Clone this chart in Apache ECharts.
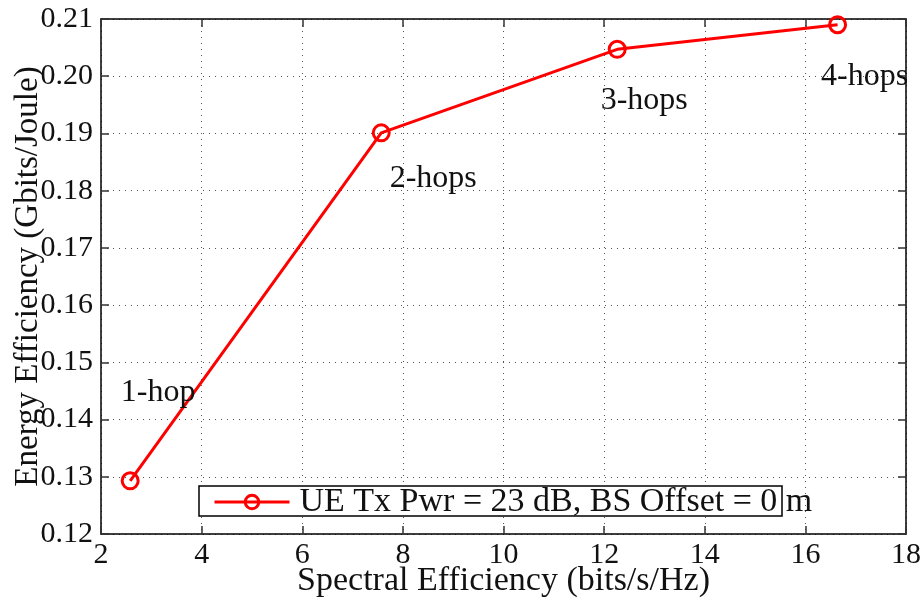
<!DOCTYPE html>
<html>
<head>
<meta charset="utf-8">
<script src="https://cdn.jsdelivr.net/npm/echarts@6/dist/echarts.min.js"></script>
<style>
  html, body { margin: 0; padding: 0; background: #fff; }
  #chart { width: 924px; height: 603px; }
</style>
</head>
<body>
<div id="chart"></div>
<script>
// Energy efficiency vs spectral efficiency for 1..4 relay hops
const spectralEff = [2.58, 7.57, 12.26, 16.64];
const energyEff = [0.1293, 0.1901, 0.2047, 0.2090];
const hopLabels = ['1-hop', '2-hops', '3-hops', '4-hops'];
const labelOffsets = [[28, -88], [52, 46], [27, 51], [27, 52]];
const seriesName = 'UE Tx Pwr = 23 dB, BS Offset = 0 m';
const xTicks = { min: 2, max: 18, step: 2 };
const yTicks = { min: 0.12, max: 0.21, step: 0.01 };

const FONT = '"Liberation Serif", "Times New Roman", serif';
const RED = '#ff0000';

const chart = echarts.init(document.getElementById('chart'), null, { renderer: 'canvas' });

const gridDots = { show: true, lineStyle: { color: '#555', type: [1, 5], width: 1 } };
const frame = { show: true, onZero: false, lineStyle: { color: '#000', width: 1.5 } };
const innerTick = { show: true, inside: true, length: 8, lineStyle: { color: '#333', width: 1.5 } };

const points = spectralEff.map((x, i) => ({
  value: [x, energyEff[i]],
  label: {
    show: true,
    formatter: hopLabels[i],
    position: 'inside',
    offset: labelOffsets[i],
    fontFamily: FONT,
    fontSize: 32,
    color: '#111'
  }
}));

chart.setOption({
  animation: false,
  backgroundColor: '#fff',
  grid: { left: 101, right: 18, top: 19, bottom: 69, containLabel: false, outerBoundsMode: 'none' },
  xAxis: [
    {
      type: 'value', min: xTicks.min, max: xTicks.max, interval: xTicks.step,
      position: 'bottom',
      name: 'Spectral Efficiency (bits/s/Hz)', nameLocation: 'middle', nameGap: 30,
      nameMoveOverlap: false,
      nameTextStyle: { fontFamily: FONT, fontSize: 34, color: '#111' },
      axisLine: frame, axisTick: innerTick, splitLine: gridDots,
      axisLabel: { fontFamily: FONT, fontSize: 30, color: '#111', margin: 6 }
    },
    {
      type: 'value', min: xTicks.min, max: xTicks.max, interval: xTicks.step,
      position: 'top', axisLine: frame, axisTick: innerTick,
      axisLabel: { show: false }, splitLine: { show: false }
    }
  ],
  yAxis: [
    {
      type: 'value', min: yTicks.min, max: yTicks.max, interval: yTicks.step,
      position: 'left',
      name: 'Energy Efficiency (Gbits/Joule)', nameLocation: 'middle', nameGap: 56,
      nameMoveOverlap: false,
      nameTextStyle: { fontFamily: FONT, fontSize: 33, color: '#111' },
      axisLine: frame, axisTick: innerTick, splitLine: gridDots,
      axisLabel: {
        fontFamily: FONT, fontSize: 30, color: '#111', margin: 8,
        formatter: v => v.toFixed(2)
      }
    },
    {
      type: 'value', min: yTicks.min, max: yTicks.max, interval: yTicks.step,
      position: 'right', axisLine: frame, axisTick: innerTick,
      axisLabel: { show: false }, splitLine: { show: false }
    }
  ],
  legend: {
    left: 213, top: 485, padding: 0,
    itemWidth: 75, itemHeight: 17, itemGap: 10,
    textStyle: { fontFamily: FONT, fontSize: 34, color: '#111', padding: [0, 0, 0, 5] },
    data: [{
      name: seriesName,
      lineStyle: { width: 3, color: RED },
      itemStyle: { color: 'rgba(255,255,255,0)', borderColor: RED, borderWidth: 3 }
    }],
    z: 5
  },
  graphic: [
    {
      type: 'rect', z: 3,
      shape: { x: 199, y: 486, width: 583, height: 30 },
      style: { fill: '#fff', stroke: '#000', lineWidth: 1.5 }
    }
  ],
  series: [
    {
      name: seriesName,
      type: 'line',
      data: points,
      symbol: 'circle',
      symbolSize: 16,
      lineStyle: { color: RED, width: 3 },
      itemStyle: { color: 'rgba(255,255,255,0)', borderColor: RED, borderWidth: 3 },
      z: 2
    }
  ]
});
</script>
</body>
</html>
